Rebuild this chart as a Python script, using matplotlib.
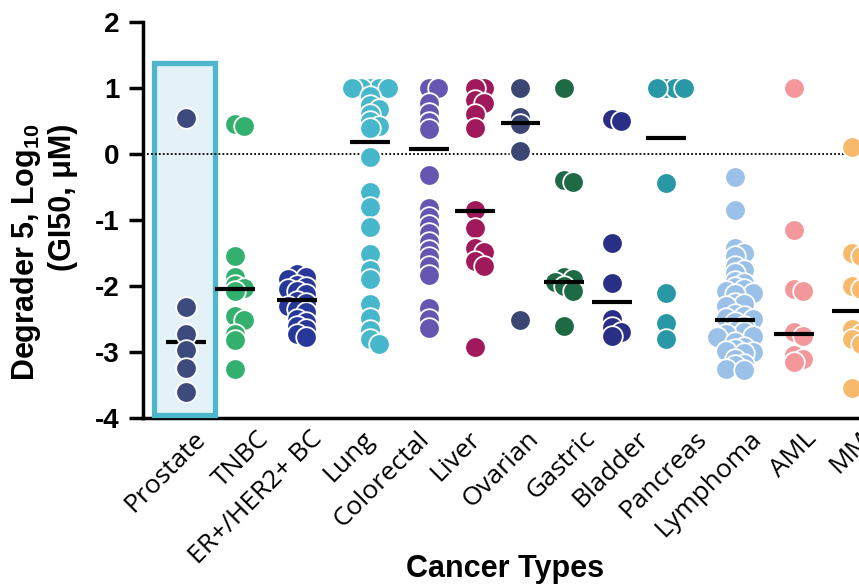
import numpy as np
import matplotlib
matplotlib.use("Agg")
import matplotlib.pyplot as plt
from matplotlib.patches import Rectangle

plt.rcParams['font.family'] = ['Liberation Sans', 'DejaVu Sans']
plt.rcParams['axes.unicode_minus'] = False
plt.rcParams['mathtext.default'] = 'regular'

# data (log10 GI50, uM)
categories = ["Prostate", "TNBC", "ER+/HER2+ BC", "Lung", "Colorectal", "Liver",
              "Ovarian", "Gastric", "Bladder", "Pancreas", "Lymphoma", "AML", "MM"]

prostate = [0.55, -2.32, -2.72, -2.97, -3.24, -3.6]
tnbc = [0.45, 0.42, -1.55, -1.86, -1.98, -2.03, -2.08, -2.45, -2.52, -2.72, -2.82, -3.25]
er_her2_bc = [-1.82, -1.86, -1.9, -1.98, -2.02, -2.05, -2.08, -2.12, -2.22, -2.26,
              -2.3, -2.35, -2.4, -2.5, -2.55, -2.6, -2.65, -2.72, -2.78]
lung = [1.0, 1.0, 1.0, 1.0, 1.0, 0.88, 0.75, 0.68, 0.6, 0.5, 0.42, 0.4,
        -0.05, -0.58, -0.8, -1.1, -1.52, -1.75, -1.9, -2.27, -2.48, -2.66, -2.8, -2.88]
colorectal = [1.0, 1.0, 0.78, 0.62, 0.48, 0.38, -0.32, -0.82, -0.95, -1.08, -1.2,
              -1.33, -1.45, -1.56, -1.7, -1.83, -2.33, -2.5, -2.63]
liver = [1.0, 1.0, 0.82, 0.78, 0.6, 0.4, -0.85, -1.12, -1.42, -1.48, -1.62, -1.7, -2.92]
ovarian = [1.0, 0.56, 0.45, 0.05, -2.52]
gastric = [1.0, -0.4, -0.43, -1.86, -1.9, -1.94, -2.0, -2.08, -2.6]
bladder = [0.53, 0.5, -1.35, -1.95, -2.5, -2.62, -2.7, -2.75]
pancreas = [1.0, 1.0, 1.0, 1.0, -0.44, -2.1, -2.56, -2.8]
lymphoma = [-0.35, -0.85, -1.42, -1.5, -1.55, -1.7, -1.75, -1.8, -1.92, -1.95,
            -2.02, -2.05, -2.08, -2.1, -2.12, -2.25, -2.28, -2.3, -2.42, -2.45,
            -2.48, -2.5, -2.55, -2.6, -2.68, -2.7, -2.72, -2.75, -2.77, -2.85,
            -2.92, -2.95, -2.98, -3.0, -3.02, -3.1, -3.18, -3.2, -3.25, -3.28]
aml = [1.0, -1.15, -2.05, -2.08, -2.7, -2.75, -3.05, -3.1, -3.15]
mm = [0.1, -1.5, -1.55, -2.0, -2.05, -2.65, -2.72, -2.8, -2.88, -3.55]

medians = [-2.85, -2.05, -2.21, 0.18, 0.08, -0.86, 0.47, -1.94, -2.24, 0.25, -2.52, -2.73, -2.38]

colors = ["#3C4A7D", "#34B06E", "#28389A", "#47B8CC", "#6656B2", "#A0195B", "#3B4672",
          "#1D6A45", "#2A2F85", "#2898A6", "#9BC1E8", "#F4979B", "#F7B96B"]

groups = [prostate, tnbc, er_her2_bc, lung, colorectal, liver, ovarian,
          gastric, bladder, pancreas, lymphoma, aml, mm]

# layout (x in pixels from the y axis)
col_x = [43, 92, 154, 227, 286, 332, 378, 422, 470, 524, 593, 652, 710]
label_x = [50, 114, 167, 219, 274, 325, 384, 440, 494, 552, 607, 662, 717]
PX_PER_UNIT = 66.0


def swarm(vals, dx=9.0, dy=6.5):
    # greedy beeswarm in pixel space, returns x offsets
    order = np.argsort(vals)[::-1]
    ys = np.asarray(vals) * PX_PER_UNIT
    offs = np.zeros(len(vals))
    placed = []
    cands = [0.0]
    for k in range(1, 10):
        cands += [k * dx, -k * dx]
    for i in order:
        for c in cands:
            ok = all(not (abs(ys[i] - py) < dy and abs(c - px) < dx * 0.99) for px, py in placed)
            if ok:
                offs[i] = c
                placed.append((c, ys[i]))
                break
    return offs


fig = plt.figure(figsize=(8.59, 5.85), dpi=100)
ax = fig.add_axes([143 / 859, 167 / 585, 716 / 859, 396 / 585])
ax.set_xlim(0, 716)
ax.set_ylim(-4, 2)

# highlight box around Prostate
box = Rectangle((11.5, -3.96), 61, 5.346, facecolor="#E4F1F6", edgecolor="#4DB6CA",
                linewidth=3.8, zorder=2.6, clip_on=False)
ax.add_patch(box)

ax.axhline(0, color="black", linestyle=(0, (1, 1.2)), linewidth=1.3, zorder=2.7)

for i, vals in enumerate(groups):
    offs = swarm(vals)
    ax.scatter(col_x[i] + offs, vals, s=220, color=colors[i], edgecolors="white",
               linewidths=1.3, zorder=3)
    z = 2.8 if i == 0 else 4
    ax.plot([col_x[i] - 20, col_x[i] + 20], [medians[i], medians[i]], color="black",
            linewidth=3, solid_capstyle="butt", zorder=z)

for s in ["top", "right"]:
    ax.spines[s].set_visible(False)
for s in ["left", "bottom"]:
    ax.spines[s].set_linewidth(2.5)

ax.set_yticks(range(-4, 3))
ax.tick_params(axis="y", length=10, width=2.5, pad=7, labelsize=20)
for t in ax.get_yticklabels():
    t.set_fontweight("bold")

ax.set_xticks(label_x)
ax.set_xticklabels(categories, rotation=45, ha="right", va="top", rotation_mode="anchor",
                   fontsize=19, family="Open Sans")
ax.tick_params(axis="x", length=0, pad=6)

fig.text(26 / 859, 1 - 124 / 585, "Degrader 5, Log$_{10}$", rotation=90, ha="center",
         va="top", fontsize=22, fontweight="bold")
fig.text(63 / 859, 1 - 124 / 585, "(GI50, \u03bcM)", rotation=90, ha="center",
         va="top", fontsize=22, fontweight="bold")
fig.text(505 / 859, 1 - 569 / 585, "Cancer Types", ha="center", va="center",
         fontsize=22, fontweight="bold")

fig.savefig("out.png", dpi=100)
